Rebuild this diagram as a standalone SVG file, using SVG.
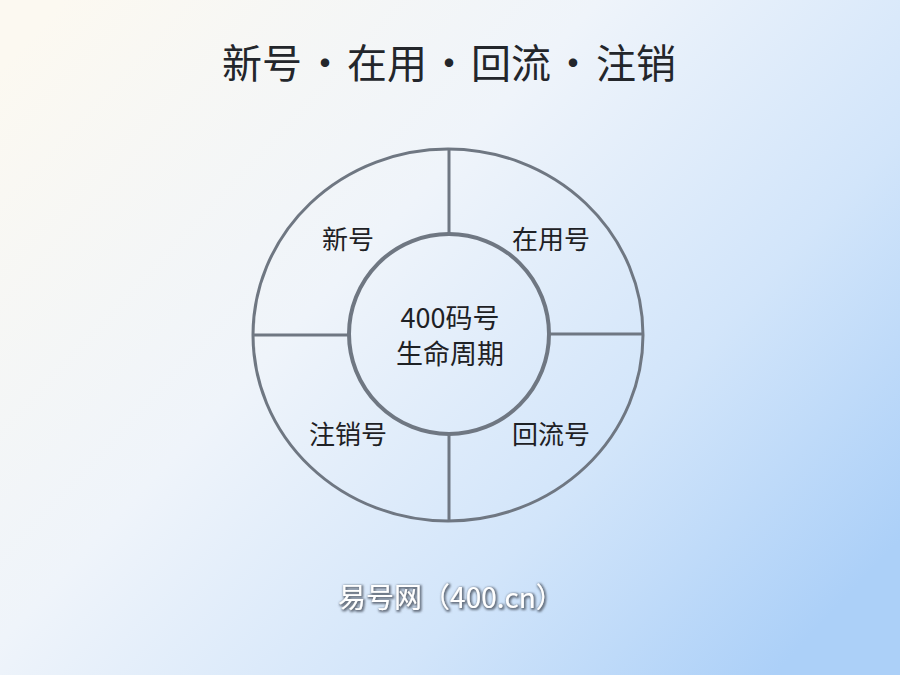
<svg xmlns="http://www.w3.org/2000/svg" width="900" height="675" viewBox="0 0 900 675">
<defs>
<linearGradient id="bg" x1="0" y1="0.1" x2="1" y2="0.8">
<stop offset="0" stop-color="#fcf9f1"/>
<stop offset="0.4" stop-color="#eff4fa"/>
<stop offset="0.72" stop-color="#d2e5fa"/>
<stop offset="1" stop-color="#acd0f8"/>
</linearGradient>
<filter id="sh" x="-10%" y="-30%" width="120%" height="160%">
<feMorphology in="SourceAlpha" operator="dilate" radius="0.6" result="d"/>
<feGaussianBlur in="d" stdDeviation="1" result="b"/>
<feOffset in="b" dx="0.5" dy="1" result="o"/>
<feFlood flood-color="#4f5866" flood-opacity="0.8"/>
<feComposite in2="o" operator="in" result="s"/>
<feMerge><feMergeNode in="s"/><feMergeNode in="SourceGraphic"/></feMerge>
</filter>
<style>
.ln{fill:none;stroke:#6f7782;stroke-width:3}
.lb{font-family:"Noto Sans CJK SC","Noto Sans",sans-serif;font-size:26px;fill:#1e2125;text-anchor:middle}
.tt{font-family:"Noto Sans CJK SC","Noto Sans",sans-serif;font-size:40px;font-weight:400;fill:#23262b;text-anchor:middle}
.ft{font-family:"Noto Sans CJK SC","Noto Sans",sans-serif;font-size:28px;fill:#ffffff;text-anchor:middle}
</style>
</defs>
<rect width="900" height="675" fill="url(#bg)"/>
<g id="title">
<text class="tt" x="262" y="78">新号</text>
<text class="tt" x="325" y="78">·</text>
<text class="tt" x="387" y="78">在用</text>
<text class="tt" x="449" y="78">·</text>
<text class="tt" x="511" y="78">回流</text>
<text class="tt" x="573" y="78">·</text>
<text class="tt" x="636" y="78">注销</text>
</g>
<g id="ring">
<ellipse class="ln" cx="448" cy="335" rx="195" ry="186"/>
</g>
<g id="connectors">
<line class="ln" x1="449" y1="149" x2="449" y2="236"/>
<line class="ln" x1="449" y1="432" x2="449" y2="521"/>
<line class="ln" x1="254" y1="335" x2="349" y2="335"/>
<line class="ln" x1="549" y1="334" x2="642" y2="334"/>
</g>
<g id="center">
<circle cx="449" cy="334" r="100" fill="none" stroke="#6f7782" stroke-width="4"/>
<text class="lb" x="450" y="328" style="font-size:27px">400码号</text>
<text class="lb" x="450" y="364" style="font-size:27px">生命周期</text>
</g>
<g id="node-new"><text class="lb" x="348" y="249">新号</text></g>
<g id="node-inuse"><text class="lb" x="551" y="249">在用号</text></g>
<g id="node-cancel"><text class="lb" x="348" y="444">注销号</text></g>
<g id="node-return"><text class="lb" x="551" y="444">回流号</text></g>
<text class="ft" x="451" y="608" filter="url(#sh)">易号网（400.cn）</text>
</svg>
